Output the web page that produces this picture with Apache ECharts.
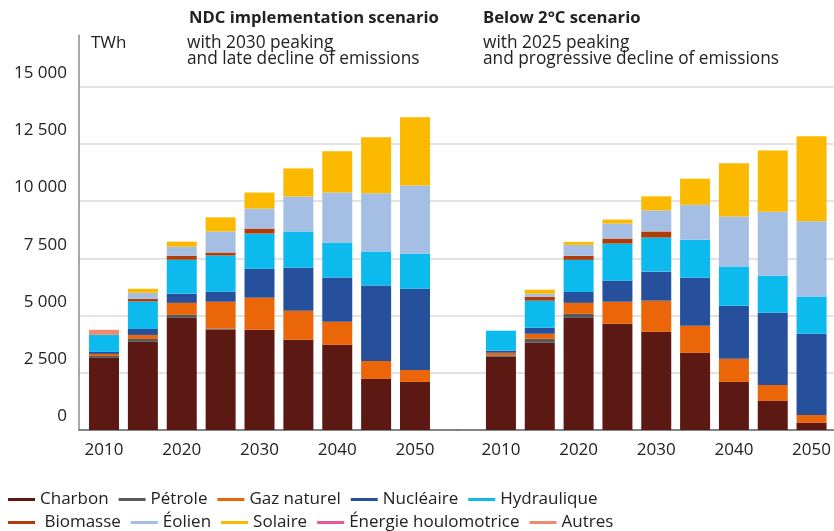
<!DOCTYPE html>
<html>
<head>
<meta charset="utf-8">
<script src="https://cdn.jsdelivr.net/npm/echarts/dist/echarts.min.js"></script>
<style>
html, body { margin: 0; padding: 0; background: #fff; }
#main { width: 834px; height: 531px; }
</style>
</head>
<body>
<div id="main"></div>
<script>
// years shown in both panels
var years = [2010, 2015, 2020, 2025, 2030, 2035, 2040, 2045, 2050];
var yearLabels = [2010, 2020, 2030, 2040, 2050];

// NDC implementation scenario (TWh)
var ndcCharbon      = [3150, 3850, 4900, 4380, 4380, 3940, 3720, 2230, 2100];
var ndcPetrole      = [85, 130, 130, 45, 0, 0, 0, 0, 0];
var ndcGaz          = [90, 175, 525, 1180, 1400, 1270, 1010, 790, 525];
var ndcNucleaire    = [88, 260, 395, 440, 1270, 1880, 1930, 3290, 3550];
var ndcHydraulique  = [745, 1200, 1490, 1580, 1530, 1580, 1530, 1490, 1530];
var ndcBiomasse     = [0, 115, 175, 130, 220, 0, 0, 0, 0];
var ndcEolien       = [0, 265, 395, 920, 875, 1530, 2190, 2540, 2980];
var ndcSolaire      = [0, 175, 220, 615, 700, 1230, 1800, 2450, 2980];
var ndcHoulo        = [0, 0, 0, 0, 0, 0, 0, 0, 0];
var ndcAutres       = [220, 0, 0, 0, 0, 0, 0, 0, 0];

// Below 2°C scenario (TWh)
var b2Charbon       = [3200, 3810, 4900, 4640, 4290, 3370, 2100, 1270, 310];
var b2Petrole       = [60, 175, 175, 0, 0, 0, 0, 0, 0];
var b2Gaz           = [115, 220, 480, 965, 1360, 1180, 1010, 700, 350];
var b2Nucleaire     = [90, 265, 480, 920, 1270, 2100, 2320, 3150, 3550];
var b2Hydraulique   = [875, 1180, 1400, 1620, 1490, 1660, 1710, 1620, 1620];
var b2Biomasse      = [0, 175, 175, 220, 265, 0, 0, 0, 0];
var b2Eolien        = [0, 130, 480, 655, 920, 1530, 2190, 2800, 3290];
var b2Solaire       = [0, 175, 130, 175, 615, 1140, 2320, 2670, 3720];
var b2Houlo         = [0, 0, 0, 0, 0, 0, 0, 0, 0];
var b2Autres        = [0, 0, 0, 0, 0, 0, 0, 0, 0];

var names = ['Charbon', 'Pétrole', 'Gaz naturel', 'Nucléaire', 'Hydraulique',
             'Biomasse', 'Éolien', 'Solaire', 'Énergie houlomotrice', 'Autres'];
var colors = ['#5c1913', '#58595b', '#eb6608', '#264f9c', '#0dbaee',
              '#b03c0a', '#a5bfe4', '#fbb900', '#e9579a', '#f08a6c'];
var ndcData = [ndcCharbon, ndcPetrole, ndcGaz, ndcNucleaire, ndcHydraulique,
               ndcBiomasse, ndcEolien, ndcSolaire, ndcHoulo, ndcAutres];
var b2Data = [b2Charbon, b2Petrole, b2Gaz, b2Nucleaire, b2Hydraulique,
              b2Biomasse, b2Eolien, b2Solaire, b2Houlo, b2Autres];

var font = 'Open Sans';
var txt = '#222';

// value first so that the stack runs on y, year second for x
function pairs(arr) {
    return years.map(function (y, i) { return [arr[i], y]; });
}

var series = [];
names.forEach(function (n, k) {
    series.push({
        name: n, type: 'bar', stack: 'ndc',
        xAxisIndex: 0, yAxisIndex: 0,
        barWidth: 30,
        encode: { x: 1, y: 0 },
        itemStyle: { color: colors[k] },
        data: pairs(ndcData[k])
    });
    series.push({
        name: n, type: 'bar', stack: 'b2',
        xAxisIndex: 1, yAxisIndex: 1,
        barWidth: 30,
        encode: { x: 1, y: 0 },
        itemStyle: { color: colors[k] },
        data: pairs(b2Data[k])
    });
});

function fmtThousands(v) {
    if (v > 15000) return '';
    return String(v).replace(/\B(?=(\d{3})+(?!\d))/g, ' ');
}

var yAxisBase = {
    type: 'value', min: 0, max: 17250, interval: 2500,
    axisTick: { show: false },
    splitLine: { show: true, showMaxLine: false, lineStyle: { color: '#dadada', width: 1.5 } }
};

var xAxisBase = {
    type: 'value',
    axisLine: { show: true, onZero: false, lineStyle: { color: '#666', width: 1.5 } },
    axisTick: { show: false },
    splitLine: { show: false },
    axisLabel: {
        customValues: yearLabels,
        color: txt, fontFamily: font, fontSize: 17, margin: 12,
        formatter: function (v) { return String(v); }
    }
};

var legendText = { fontFamily: font, fontSize: 17, color: txt };

var myChart = echarts.init(document.getElementById('main'));
var option = {
    animation: false,
    backgroundColor: '#fff',
    textStyle: { fontFamily: font },
    title: [
        { text: 'NDC implementation scenario', left: 189, top: 8, padding: 0,
          textStyle: { fontFamily: font, fontSize: 16.6, fontWeight: 'bold', color: txt, lineHeight: 20 } },
        { text: 'with 2030 peaking\nand late decline of emissions', left: 187, top: 35, padding: 0,
          textStyle: { fontFamily: font, fontSize: 17.3, fontWeight: 'normal', color: txt, lineHeight: 16 } },
        { text: 'Below 2°C scenario', left: 483, top: 8, padding: 0,
          textStyle: { fontFamily: font, fontSize: 16.7, fontWeight: 'bold', color: txt, lineHeight: 20 } },
        { text: 'with 2025 peaking\nand progressive decline of emissions', left: 483, top: 35, padding: 0,
          textStyle: { fontFamily: font, fontSize: 17.3, fontWeight: 'normal', color: txt, lineHeight: 16 } },
        { text: 'TWh', left: 91, top: 35, padding: 0,
          textStyle: { fontFamily: font, fontSize: 17, fontWeight: 'normal', color: txt, lineHeight: 16 } }
    ],
    legend: [
        { data: names.slice(0, 5), left: 8, top: 491, padding: 0,
          icon: 'rect', itemWidth: 27, itemHeight: 3, itemGap: 10,
          textStyle: legendText },
        { data: names.slice(5), left: 8, top: 514, padding: 0,
          icon: 'rect', itemWidth: 27, itemHeight: 3, itemGap: 10,
          formatter: function (n) { return n === 'Biomasse' ? ' ' + n : n; },
          textStyle: legendText }
    ],
    grid: [
        { left: 79, width: 379, top: 35.2, bottom: 101 },
        { left: 458, right: 0, top: 35.2, bottom: 101 }
    ],
    xAxis: [
        Object.assign({}, xAxisBase, { gridIndex: 0, min: 2006.785, max: 2055.53 }),
        Object.assign({}, xAxisBase, { gridIndex: 1, min: 2004.47, max: 2052.83 })
    ],
    yAxis: [
        Object.assign({}, yAxisBase, {
            gridIndex: 0,
            axisLine: { show: true, lineStyle: { color: '#8c8c8c', width: 1.5 } },
            axisLabel: {
                color: txt, fontFamily: font, fontSize: 17, margin: 12,
                verticalAlign: 'bottom', lineHeight: 17, padding: [0, 0, 5, 0],
                formatter: fmtThousands
            }
        }),
        Object.assign({}, yAxisBase, {
            gridIndex: 1,
            axisLine: { show: false },
            axisLabel: { show: false }
        })
    ],
    series: series
};
myChart.setOption(option);
</script>
</body>
</html>
